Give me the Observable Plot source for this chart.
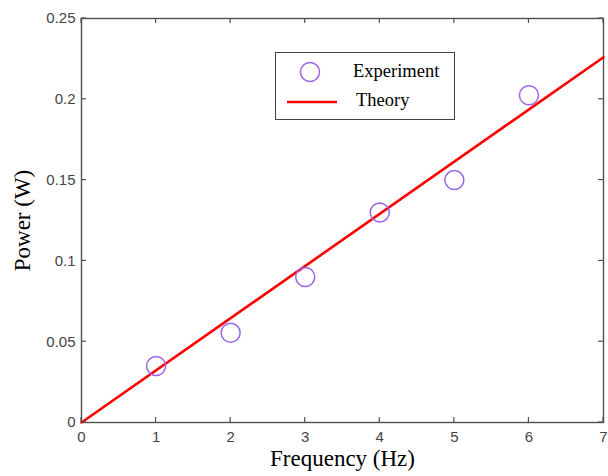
<!DOCTYPE html>
<html>
<head>
<meta charset="utf-8">
<script src="https://cdn.jsdelivr.net/npm/d3@7"></script>
<script src="https://cdn.jsdelivr.net/npm/@observablehq/plot@0.6"></script>
<style>
  html, body { margin: 0; padding: 0; background: #fff; }
  #wrap { position: relative; width: 608px; height: 476px; }
  #wrap svg.plot { font-family: "Liberation Sans", Arial, sans-serif; }
  g[aria-label="y-axis label"] text, g[aria-label="x-axis label"] text {
    font-family: "Liberation Serif", "Times New Roman", serif; font-size: 23px; fill: #000;
  }
  #legend { position: absolute; left: 275px; top: 52px; width: 180px; height: 68px;
    border: 1px solid #444; background: #fff; box-sizing: border-box;
    font-family: "Liberation Serif", "Times New Roman", serif; font-size: 16px; color: #000; }
</style>
</head>
<body>
<div id="wrap"></div>
<script>
const frequency = [1, 2, 3, 4, 5, 6];
const powerExperiment = [0.035, 0.0555, 0.09, 0.13, 0.15, 0.2025];
const theoryFreq = [0, 7];
const powerTheory = [0, 0.226];
const xTicks = [0, 1, 2, 3, 4, 5, 6, 7];
const yTicks = [0, 0.05, 0.1, 0.15, 0.2, 0.25];
const seriesNames = ["Experiment", "Theory"];
const colors = {Experiment: "#9b66ea", Theory: "#ff0000"};

const expData = frequency.map((f, i) => ({f, p: powerExperiment[i]}));
const theoData = theoryFreq.map((f, i) => ({f, p: powerTheory[i]}));

const W = 608, H = 476, mL = 81, mR = 5, mT = 18, mB = 54;
const tl = 5;
const axisColor = "#505050";
const plot = Plot.plot({
  width: W,
  height: H,
  marginLeft: mL,
  marginRight: mR,
  marginTop: mT,
  marginBottom: mB,
  style: {fontSize: "15px", color: "#333", overflow: "visible"},
  x: {domain: [0, 7]},
  y: {domain: [0, 0.25]},
  marks: [
    Plot.frame({stroke: axisColor, strokeWidth: 1.4}),
    Plot.axisX({ticks: xTicks, tickSize: 0, tickPadding: 9, fill: "#444",
      label: "Frequency (Hz)", labelAnchor: "center", labelArrow: "none", labelOffset: 43,
      tickFormat: d => String(d)}),
    Plot.axisY({ticks: yTicks, tickSize: 0, tickPadding: 6, fill: "#444",
      label: "Power (W)", labelAnchor: "center", labelArrow: "none", labelOffset: 68,
      tickFormat: d => String(d)}),
    Plot.line(theoData, {x: "f", y: "p", stroke: colors.Theory, strokeWidth: 2.6}),
    Plot.dot(expData, {x: "f", y: "p", r: 9.5, stroke: colors.Experiment, strokeWidth: 1.5, fill: "none"})
  ]
});
plot.classList.add("plot");
const wrap = document.getElementById("wrap");
wrap.appendChild(plot);

// inward (MATLAB-style) ticks on all four sides, positioned by Plot's own scales
const sx = plot.scale("x"), sy = plot.scale("y");
const svg = d3.select(plot);
const tg = svg.append("g").attr("stroke", axisColor).attr("stroke-width", 1.2);
const yTop = mT, yBot = H - mB, xLeft = mL, xRight = W - mR;
for (const t of xTicks) {
  const px = sx.apply(t);
  tg.append("line").attr("x1", px).attr("x2", px).attr("y1", yBot).attr("y2", yBot - tl);
  tg.append("line").attr("x1", px).attr("x2", px).attr("y1", yTop).attr("y2", yTop + tl);
}
for (const t of yTicks) {
  const py = sy.apply(t);
  tg.append("line").attr("y1", py).attr("y2", py).attr("x1", xLeft).attr("x2", xLeft + tl);
  tg.append("line").attr("y1", py).attr("y2", py).attr("x1", xRight).attr("x2", xRight - tl);
}

const legend = document.createElement("div");
legend.id = "legend";
legend.innerHTML = `
<svg width="180" height="68" style="position:absolute;left:0;top:0;overflow:visible">
  <circle cx="34" cy="19" r="9.5" fill="none" stroke="${colors.Experiment}" stroke-width="1.5"></circle>
  <line x1="11" x2="61" y1="49" y2="49" stroke="${colors.Theory}" stroke-width="2.6"></line>
  <text x="77" y="24" font-family="Liberation Serif, serif" font-size="18.5">${seriesNames[0]}</text>
  <text x="80" y="53" font-family="Liberation Serif, serif" font-size="18.5">${seriesNames[1]}</text>
</svg>`;
wrap.appendChild(legend);
</script>
</body>
</html>
